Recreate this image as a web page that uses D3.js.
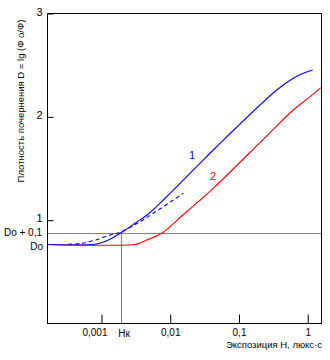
<!DOCTYPE html>
<html><head><meta charset="utf-8">
<script src="https://cdn.jsdelivr.net/npm/d3@7"></script>
<style>body{margin:0;background:#fff}svg{display:block}text{font-family:"Liberation Sans",Arial,sans-serif}</style>
</head><body>
<svg id="c" width="330" height="360"></svg>
<script>
// Data (exposure H in lux·s, optical density D)
const xTicks = [0.001, 0.01, 0.1, 1];
const xTickLabels = ["0,001", "0,01", "0,1", "1"];
const yTicks = [1, 2, 3];
const yTickLabels = ["1", "2", "3"];
const curve1H = [0.000164, 0.000807, 0.001127, 0.001474, 0.001972, 0.003078, 0.004806, 0.008406, 0.0147, 0.02563, 0.04484, 0.354, 0.6166, 0.863, 1.181];
const curve1D = [0.765, 0.767, 0.794, 0.832, 0.883, 0.970, 1.060, 1.212, 1.372, 1.534, 1.696, 2.260, 2.373, 2.421, 2.453];
const curve2H = [0.000164, 0.003078, 0.00364, 0.004302, 0.007525, 0.0147, 0.02563, 0.04484, 0.2672, 0.6166, 1.079, 1.56];
const curve2D = [0.765, 0.765, 0.779, 0.801, 0.873, 1.040, 1.179, 1.324, 1.831, 2.066, 2.195, 2.282];
const dashH = [0.000327, 0.000488, 0.000754, 0.001333, 0.001972, 0.00364, 0.006368, 0.01109, 0.01553];
const dashD = [0.767, 0.774, 0.801, 0.856, 0.890, 0.985, 1.089, 1.195, 1.260];
const D0 = 0.765, D0plus = 0.88, Hk = 0.00193;
const xMin = 0.000164, xMax = 1.585;

const svg = d3.select("#c");
const L = 47.5, R = 321.5, T = 13.5, B = 323.5;
const x = d3.scaleLog().domain([xMin, xMax]).range([L, R]);
const y = d3.scaleLinear().domain([0, 3]).range([B, T]);

// reference lines
const yRef = Math.round(y(D0plus)) + 0.5;
svg.append("line").attr("x1", L).attr("x2", R).attr("y1", yRef).attr("y2", yRef)
  .attr("stroke", "#808080").attr("stroke-width", 1);
svg.append("line").attr("x1", Math.round(x(Hk)) + 0.5).attr("x2", Math.round(x(Hk)) + 0.5).attr("y1", B).attr("y2", yRef)
  .attr("stroke", "#808080").attr("stroke-width", 1);

const line = d3.line().x(d => x(d[0])).y(d => y(d[1])).curve(d3.curveCatmullRom.alpha(0.5));
svg.append("path").datum(curve2H.map((h, i) => [h, curve2D[i]])).attr("d", line)
  .attr("fill", "none").attr("stroke", "#ff0000").attr("stroke-width", 1.1);
svg.append("path").datum(curve1H.map((h, i) => [h, curve1D[i]])).attr("d", line)
  .attr("fill", "none").attr("stroke", "#0000ff").attr("stroke-width", 1.1);
svg.append("path").datum(dashH.map((h, i) => [h, dashD[i]])).attr("d", line)
  .attr("fill", "none").attr("stroke", "#0000ff").attr("stroke-width", 1.1).attr("stroke-dasharray", "4,3");

// frame
svg.append("rect").attr("x", L).attr("y", T).attr("width", R - L).attr("height", B - T)
  .attr("fill", "none").attr("stroke", "#000").attr("stroke-width", 1);

// x axis (ticks inward)
const xa = svg.append("g").attr("transform", `translate(0,${B})`)
  .call(d3.axisBottom(x).tickValues(xTicks).tickSizeInner(-9).tickSizeOuter(0).tickFormat((d, i) => xTickLabels[i]));
xa.select(".domain").remove();
xa.selectAll("line").attr("stroke", "#000");
xa.selectAll("text").attr("y", 5).attr("font-size", 10).attr("fill", "#000")
  .attr("dx", (d, i) => i === 0 ? -7 : 0);

// y axis (ticks inward)
const ya = svg.append("g").attr("transform", `translate(${L},0)`)
  .call(d3.axisLeft(y).tickValues(yTicks).tickSizeInner(-6).tickSizeOuter(0).tickFormat((d, i) => yTickLabels[i]));
ya.select(".domain").remove();
ya.selectAll("line").attr("stroke", "#000");
ya.selectAll("text").attr("x", -5).attr("dy", "0.15em").attr("font-size", 11).attr("fill", "#000");

// extra y labels
svg.append("text").attr("x", 42).attr("y", y(D0plus)).attr("dy", "0.35em").attr("text-anchor", "end")
  .attr("font-size", 10).text("Do + 0,1");
svg.append("text").attr("x", 43).attr("y", y(D0) + 2).attr("dy", "0.35em").attr("text-anchor", "end")
  .attr("font-size", 10).text("Do");
svg.append("text").attr("x", x(Hk) + 3).attr("y", 337).attr("text-anchor", "middle")
  .attr("font-size", 10).text("Нк");

// axis titles
svg.append("text").attr("x", 322).attr("y", 348).attr("text-anchor", "end")
  .attr("font-size", 9.5).text("Экспозиция Н, люкс·с");
svg.append("text").attr("transform", "translate(24,101) rotate(-90)").attr("text-anchor", "middle")
  .attr("font-size", 9.5).text("Плотность почернения D = lg (Ф о/Ф)");

// curve labels
svg.append("text").attr("x", 192).attr("y", 159).attr("text-anchor", "middle").attr("font-size", 11)
  .attr("fill", "#0000ff").text("1");
svg.append("text").attr("x", 213).attr("y", 180).attr("text-anchor", "middle").attr("font-size", 11)
  .attr("fill", "#ff0000").text("2");
</script>
</body></html>
